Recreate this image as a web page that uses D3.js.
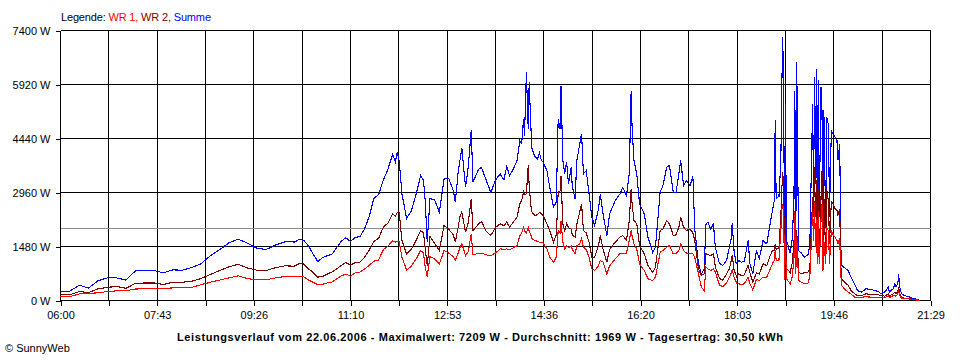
<!DOCTYPE html>
<html>
<head>
<meta charset="utf-8">
<script src="https://cdn.jsdelivr.net/npm/d3@7"></script>
<style>
  body { margin: 0; background: #fff; }
  text { font-family: "Liberation Sans", Arial, sans-serif; font-size: 11px; }
</style>
</head>
<body>
<div id="chart"></div>
<script>
// minutes after 06:00
const minutes = [
  0, 10, 20, 30, 40, 50, 60, 70, 80, 90, 100, 110, 120, 130, 140, 150, 160, 170, 180, 190, 200, 210, 220, 230,
  240, 245, 250, 255, 260, 265, 270, 275, 280, 285, 290, 295, 300, 305, 310, 315, 320, 325, 330, 335, 340, 345,
  350, 355, 358, 360, 362, 365, 370, 375, 380, 385, 388, 390, 392, 395, 400, 405, 410, 415, 420, 422, 425, 427,
  429, 433, 436, 439, 441, 447, 450, 455, 460, 465,
  470, 474, 477, 480, 484, 488, 491, 493, 495, 496, 498, 500, 501, 503, 504, 507, 510, 512, 514, 516, 520, 523,
  527, 530, 532, 534, 535, 537, 539, 541, 543, 546, 547, 550, 552, 555, 557, 559, 562, 565, 568, 571, 575, 577,
  580, 584, 587, 593, 598, 601, 605, 608, 610, 611, 613, 616, 619, 624, 628, 633, 636, 641, 644, 648, 651, 655,
  658, 661, 663, 666, 669, 673, 676, 678, 682, 685, 688, 690, 692, 695, 698, 700, 704,
  705, 708, 712, 715, 717, 718, 720, 722, 723, 725, 728, 731, 735, 737, 740, 744, 747, 751, 755, 758, 761, 763,
  764, 765, 768, 770, 771, 772, 773, 774, 775, 776, 777, 779, 780, 782, 784, 785, 786, 787, 789, 792, 795, 799,
  801, 804, 805, 806, 807, 808, 809, 810, 811, 813, 814, 815, 816, 818, 819, 821, 822, 824, 826, 828, 830, 831,
  833, 834, 835, 838, 842, 845, 849, 852, 856, 861, 868, 874, 877, 881, 885, 886, 890, 892, 893, 895, 896, 897,
  899, 902, 908, 913, 917, 919
]

// WR 1 in W
const wr1 = [
  110, 105, 180, 195, 210, 245, 265, 265, 315, 320, 320, 330, 345, 350, 360, 430, 500, 560, 620, 676, 600, 567, 567, 620,
  660, 658, 658, 658, 650, 560, 500, 438, 445, 480, 505, 585, 670, 725, 665, 760, 776, 860, 960, 1080, 1110, 1390,
  1490, 1640, 1600, 1620, 1620, 1187, 830, 940, 1130, 1370, 1300, 900, 658, 1200, 1140, 1005, 1370, 1300, 1200, 1096, 1300, 1450,
  1553, 1233, 1350, 1827, 1250, 1300, 1300, 1250, 1233, 1300,
  1415, 1400, 1415, 1390, 1440, 1507, 1780, 1850, 2010, 1900, 1850, 2010, 1900, 1780, 1700, 1644, 1620, 1600, 1600, 1570, 1415, 1187,
  1050, 1187, 1918, 1850, 2190, 1600, 1415, 1500, 1450, 1500, 1400, 1280, 1500, 1553, 1700, 1460, 1400, 1187, 868, 822, 950, 1096,
  1050, 730, 950, 1142, 1280, 1300, 1300, 1644, 1918, 1780, 1553, 1415, 1005, 822, 594, 548, 640, 1325, 1370, 1460, 1507, 1280,
  1280, 1370, 1553, 1370, 1300, 1300, 1280, 1187, 730, 365, 274, 913, 868, 822, 868, 780, 456,
  411, 380, 480, 640, 750, 840, 640, 520, 457, 457, 440, 457, 640, 457, 292, 580, 540, 640, 640, 822, 1005, 1100,
  1370, 1100, 1100, 1918, 2466, 2650, 2466, 550, 1644, 600, 550, 500, 457, 640, 1096, 2466, 740, 1740, 550, 500, 457, 480,
  640, 2466, 1644, 2740, 1460, 2220, 1005, 2466, 1005, 2200, 2650, 800, 1644, 1005, 2010, 1900, 1005, 1918, 1800, 1735, 1644, 1553,
  1700, 730, 411, 320, 228, 180, 91, 91, 91, 100, 91, 91, 91, 80, 130, 80, 130, 150, 120, 180, 274, 130,
  64, 55, 40, 20, 10, 0
]

// WR 2 in W
const wr2 = [
  155, 155, 245, 215, 320, 360, 385, 335, 470, 480, 480, 440, 500, 500, 525, 600, 710, 820, 920, 995, 890, 830, 822, 900,
  950, 945, 940, 1010, 1000, 870, 770, 640, 660, 720, 780, 860, 960, 1040, 970, 1040, 1050, 1180, 1380, 1620, 1700, 2010,
  2120, 2380, 2300, 2420, 2420, 1644, 1270, 1400, 1640, 1918, 1850, 1400, 960, 1750, 1560, 1370, 2055, 1950, 1800, 1600, 2000, 2300,
  2420, 1870, 2150, 2785, 1920, 2100, 2165, 1900, 1780, 2000,
  2100, 2050, 2150, 2010, 2150, 2285, 2650, 2750, 2970, 2900, 2920, 3700, 3150, 2560, 2420, 2330, 2350, 2420, 2380, 2330, 2100, 1918,
  1600, 1800, 2970, 3000, 3425, 2100, 1918, 2100, 2000, 1950, 1800, 1735, 2100, 2420, 2650, 1918, 1850, 1600, 1187, 1187, 1500, 1780,
  1400, 1050, 1400, 1600, 1735, 1780, 1644, 2190, 3060, 2650, 2200, 2100, 1507, 1280, 960, 776, 913, 1918, 1960, 2190, 2100, 1780,
  1800, 2010, 2285, 2010, 1918, 1960, 1850, 1644, 868, 685, 730, 1280, 1260, 1233, 1280, 913, 640,
  594, 560, 730, 870, 1100, 1233, 850, 700, 640, 730, 680, 700, 960, 760, 502, 760, 730, 1005, 960, 1187, 1370, 1370,
  1553, 1400, 1450, 2285, 3015, 3515, 3195, 850, 2285, 850, 850, 800, 760, 1005, 1553, 2285, 1005, 1918, 780, 730, 760, 780,
  850, 2830, 2285, 3650, 2285, 3290, 1460, 3015, 1187, 2830, 3560, 1553, 2900, 1187, 3060, 2700, 1553, 2700, 2650, 2510, 2466, 2350,
  2510, 1005, 594, 500, 420, 274, 183, 137, 130, 183, 160, 160, 137, 120, 183, 120, 183, 228, 183, 250, 365, 183,
  91, 64, 46, 30, 10, 0
]

// Summe in W
const summe = [
  255, 255, 420, 340, 540, 620, 620, 560, 810, 820, 820, 760, 840, 830, 900, 1005, 1220, 1390, 1580, 1680, 1570, 1430, 1400, 1520,
  1610, 1620, 1600, 1670, 1650, 1500, 1270, 1070, 1170, 1230, 1260, 1440, 1620, 1720, 1620, 1730, 1750, 1960, 2300, 2800, 2900, 3290,
  3600, 4000, 3800, 4060, 3840, 2920, 2250, 2450, 2900, 3425, 3290, 2700, 1600, 2800, 2750, 2420, 3330, 3350, 3000, 2690, 3500, 3840,
  4180, 3100, 3700, 4660, 3250, 3600, 3650, 3300, 2960, 3300,
  3470, 3300, 3670, 3425, 3600, 3836, 4385, 4300, 4980, 4500, 6257, 4700, 5980, 4660, 4155, 3950, 3880, 4050, 3840, 3790, 3560, 3100,
  2560, 2700, 4980, 4700, 5890, 3836, 3470, 3800, 3200, 3650, 3150, 2785, 3836, 4290, 4570, 3470, 3560, 2920, 2285, 2055, 2500, 2920,
  2375, 1780, 2375, 2740, 2920, 3100, 2880, 3470, 5750, 4750, 3836, 3470, 2650, 2375, 1735, 1325, 1460, 2970, 3150, 3650, 3700, 2970,
  2970, 3470, 3836, 3150, 3290, 3150, 3400, 1960, 1005, 730, 850, 2100, 2150, 1960, 2100, 1460, 1050,
  1005, 960, 1100, 1460, 1700, 2120, 1370, 1050, 1005, 1100, 1050, 1070, 1644, 1005, 730, 1370, 1150, 1644, 1550, 2010, 2466, 2740,
  4950, 2800, 2850, 3790, 5755, 7209, 5940, 1187, 5390, 1400, 1600, 1370, 1300, 1644, 2650, 5755, 1460, 6530, 1370, 1300, 1187, 1250,
  1500, 5390, 2650, 6120, 3200, 6350, 2300, 6030, 2300, 5850, 5200, 2400, 5210, 2000, 5025, 4800, 2300, 4660, 4550, 4475, 4390, 3840,
  4290, 1553, 960, 900, 822, 640, 440, 274, 228, 320, 292, 250, 183, 230, 365, 230, 320, 456, 380, 456, 712, 380,
  183, 137, 91, 46, 20, 0
]

const timeLabels = ['06:00', '07:43', '09:26', '11:10', '12:53', '14:36', '16:20', '18:03', '19:46', '21:29']
const powerTicks = [0, 1480, 2960, 4440, 5920, 7400]
const average = 1969
const title = 'Leistungsverlauf vom 22.06.2006 - Maximalwert: 7209 W - Durchschnitt: 1969 W - Tagesertrag: 30,50 kWh'

const margin = { top: 30, right: 30, bottom: 60, left: 60 }
const width = 960 - margin.left - margin.right
const height = 360 - margin.top - margin.bottom

const root = d3.select('#chart').append('svg')
  .attr('width', 960)
  .attr('height', 360)
  .style('display', 'block')

const svg = root.append('g')
  .attr('transform', 'translate(' + (margin.left + 0.5) + ',' + (margin.top + 0.5) + ')')

const xPositionScale = d3.scaleLinear().domain([0, 930]).range([0, width])
const yPositionScale = d3.scaleLinear().domain([0, 7400]).range([height, 0])

// vertical grid, one line every half label step
const gridTimes = d3.range(19).map(i => i * 930 / 18)

const xAxis = d3.axisBottom(xPositionScale)
  .tickValues(gridTimes)
  .tickSize(5)
  .tickPadding(6)
  .tickFormat((d, i) => i % 2 === 0 ? timeLabels[i / 2] : '')

const yAxis = d3.axisLeft(yPositionScale)
  .tickValues(powerTicks)
  .tickSize(5)
  .tickPadding(5)
  .tickFormat(d => d + ' W')

svg.append('g')
  .attr('class', 'grid')
  .selectAll('line.v')
  .data(gridTimes)
  .join('line')
  .attr('x1', d => Math.round(xPositionScale(d)))
  .attr('x2', d => Math.round(xPositionScale(d)))
  .attr('y1', 0)
  .attr('y2', height)
  .attr('stroke', '#000')

svg.append('g')
  .attr('class', 'grid')
  .selectAll('line')
  .data(powerTicks)
  .join('line')
  .attr('x1', 0)
  .attr('x2', width)
  .attr('y1', d => Math.round(yPositionScale(d)))
  .attr('y2', d => Math.round(yPositionScale(d)))
  .attr('stroke', '#000')

// average line (Durchschnitt)
svg.append('line')
  .attr('class', 'grid')
  .attr('x1', 0)
  .attr('x2', width)
  .attr('y1', Math.round(yPositionScale(average)))
  .attr('y2', Math.round(yPositionScale(average)))
  .attr('stroke', '#8c8c8c')

const xg = svg.append('g')
  .attr('transform', 'translate(0,' + height + ')')
  .call(xAxis)
xg.select('.domain').remove()
xg.selectAll('.tick line').attr('stroke', '#000')
xg.selectAll('text').attr('fill', '#000').style('font-size', '11px').style('font-family', '"Liberation Sans", Arial, sans-serif')

const yg = svg.append('g').call(yAxis)
yg.select('.domain').remove()
yg.selectAll('.tick line').attr('stroke', '#000')
yg.selectAll('text').attr('fill', '#000').style('font-size', '11px').style('font-family', '"Liberation Sans", Arial, sans-serif')

svg.selectAll('.tick line, .grid line, line.grid').attr('shape-rendering', 'crispEdges')

// series: blue sum first, then WR 2, WR 1 on top
const series = [
  { name: 'Summe', values: summe, color: '#0000ff' },
  { name: 'WR 2', values: wr2, color: '#800000' },
  { name: 'WR 1', values: wr1, color: '#ff0000' }
]

const line = d3.line()
  .x((d, i) => xPositionScale(minutes[i]))
  .y(d => yPositionScale(d))

svg.selectAll('path.series')
  .data(series)
  .join('path')
  .attr('class', 'series')
  .attr('d', d => line(d.values))
  .attr('fill', 'none')
  .attr('stroke', d => d.color)
  .attr('stroke-width', 1.1)
  .attr('shape-rendering', 'crispEdges')

// legend
const legend = root.append('text')
  .attr('x', 61)
  .attr('y', 21)
  .attr('textLength', 150)
  .attr('lengthAdjust', 'spacing')
legend.append('tspan').attr('fill', '#000').text('Legende: ')
legend.append('tspan').attr('fill', '#ff0000').text('WR 1, ')
legend.append('tspan').attr('fill', '#800000').text('WR 2, ')
legend.append('tspan').attr('fill', '#0000ff').text('Summe')

root.append('text')
  .attr('x', 177)
  .attr('y', 341)
  .attr('textLength', 606)
  .attr('lengthAdjust', 'spacing')
  .style('font-weight', 'bold')
  .text(title)

root.append('text')
  .attr('x', 5)
  .attr('y', 352)
  .text('\u00a9 SunnyWeb')
</script>
</body>
</html>
